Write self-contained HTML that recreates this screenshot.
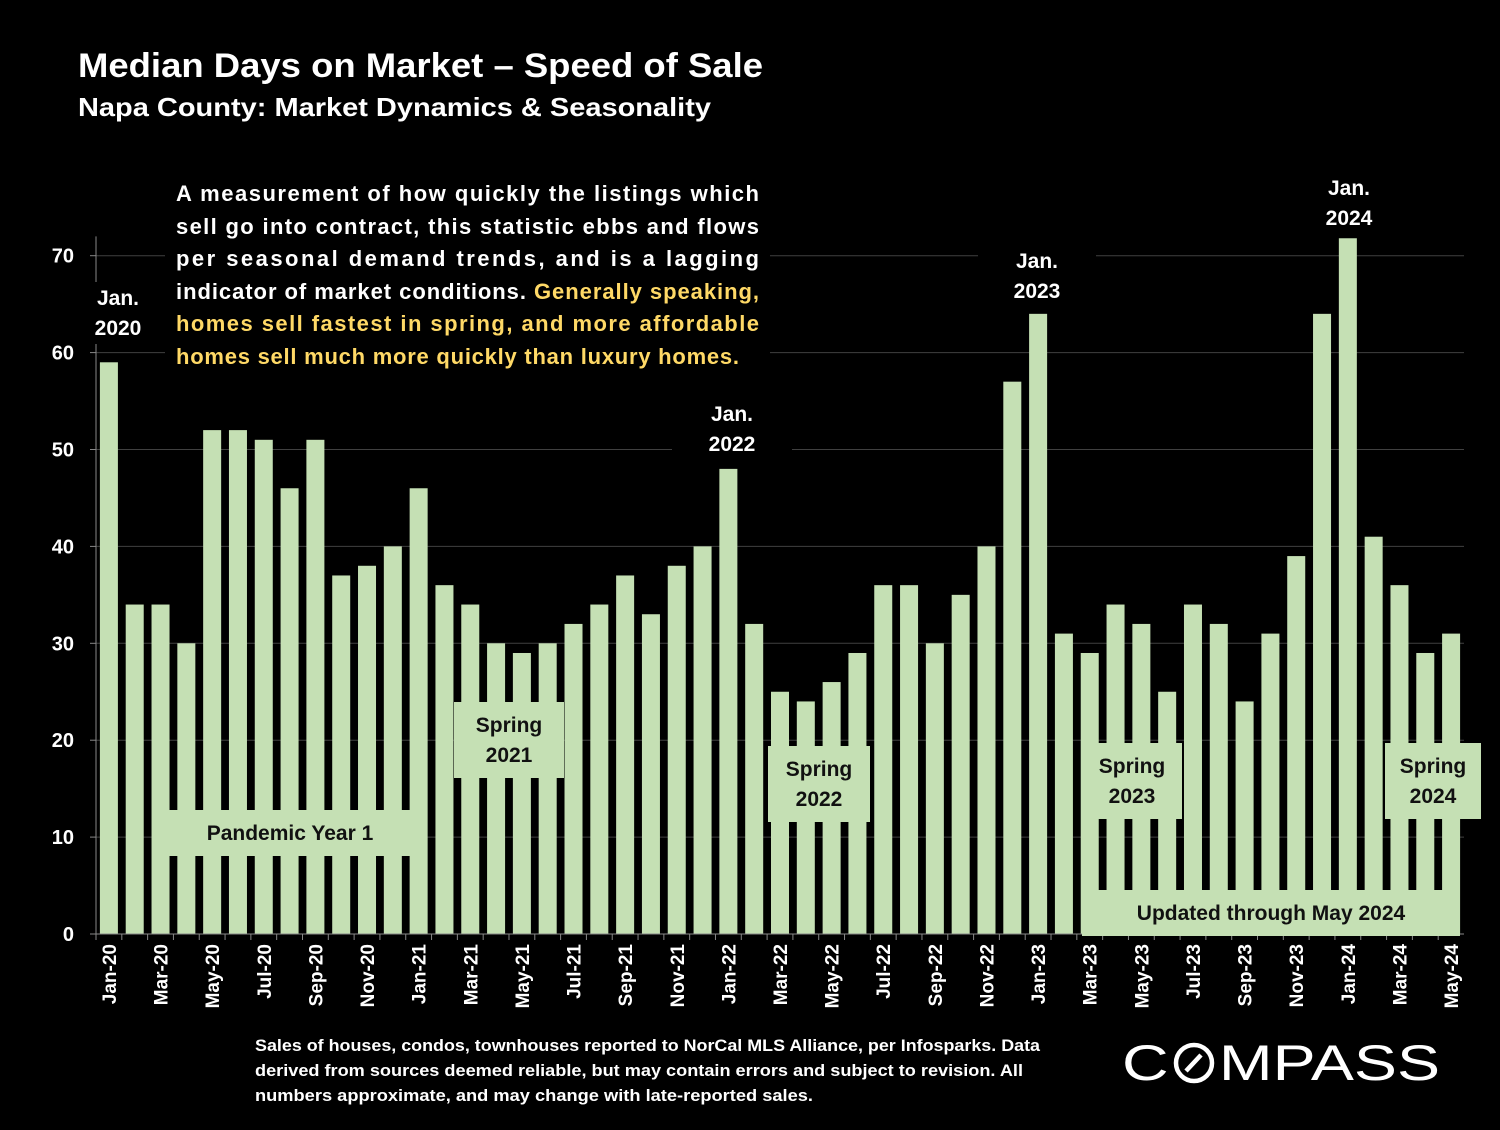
<!DOCTYPE html>
<html><head><meta charset="utf-8"><style>
body{margin:0;background:#000;width:1500px;height:1125px;overflow:hidden;font-family:"Liberation Sans",sans-serif;color:#fff}
</style></head><body>
<svg id="c" width="1500" height="1125" xmlns="http://www.w3.org/2000/svg" font-family="Liberation Sans, sans-serif">
<text x="78" y="77" font-size="34" font-weight="bold" fill="#fff" textLength="685" lengthAdjust="spacingAndGlyphs">Median Days on Market – Speed of Sale</text>
<text x="78" y="116" font-size="26" font-weight="bold" fill="#fff" textLength="633" lengthAdjust="spacingAndGlyphs">Napa County: Market Dynamics &amp; Seasonality</text>
<g id="grid"></g><g id="bars"></g><g id="axes"></g><g id="ann"></g>
<g font-size="22" font-weight="bold">
<rect x="165" y="172" width="605" height="203" fill="#000"/>
<text x="176" y="201" fill="#fff" textLength="583">A measurement of how quickly the listings which</text>
<text x="176" y="234" fill="#fff" textLength="583">sell go into contract, this statistic ebbs and flows</text>
<text x="176" y="266" fill="#fff" textLength="583">per seasonal demand trends, and is a lagging</text>
<text x="176" y="299" fill="#fff" textLength="583">indicator of market conditions. <tspan fill="#ffd966">Generally speaking,</tspan></text>
<text x="176" y="331" fill="#ffd966" textLength="583">homes sell fastest in spring, and more affordable</text>
<text x="176" y="364" fill="#ffd966" textLength="563">homes sell much more quickly than luxury homes.</text>
</g>
<g font-size="16.5" font-weight="bold" fill="#fff">
<text x="255" y="1051" textLength="785" lengthAdjust="spacingAndGlyphs">Sales of houses, condos, townhouses reported to NorCal MLS Alliance, per Infosparks. Data</text>
<text x="255" y="1076" textLength="768" lengthAdjust="spacingAndGlyphs">derived from sources deemed reliable, but may contain errors and subject to revision. All</text>
<text x="255" y="1101" textLength="558" lengthAdjust="spacingAndGlyphs">numbers approximate, and may change with late-reported sales.</text>
</g>
<g>
<text x="1122" y="1080" font-size="50" fill="#fff" textLength="318" lengthAdjust="spacingAndGlyphs">C<tspan fill="#000">O</tspan>MPASS</text>
<circle cx="1194" cy="1063" r="18" fill="none" stroke="#fff" stroke-width="4.5"/>
<line x1="1186" y1="1071" x2="1201" y2="1055" stroke="#fff" stroke-width="4.5"/>
</g>
</svg>
<script>
const categories=["Jan-20","Feb-20","Mar-20","Apr-20","May-20","Jun-20","Jul-20","Aug-20","Sep-20","Oct-20","Nov-20","Dec-20","Jan-21","Feb-21","Mar-21","Apr-21","May-21","Jun-21","Jul-21","Aug-21","Sep-21","Oct-21","Nov-21","Dec-21","Jan-22","Feb-22","Mar-22","Apr-22","May-22","Jun-22","Jul-22","Aug-22","Sep-22","Oct-22","Nov-22","Dec-22","Jan-23","Feb-23","Mar-23","Apr-23","May-23","Jun-23","Jul-23","Aug-23","Sep-23","Oct-23","Nov-23","Dec-23","Jan-24","Feb-24","Mar-24","Apr-24","May-24"];
const values=[59,34,34,30,52,52,51,46,51,37,38,40,46,36,34,30,29,30,32,34,37,33,38,40,48,32,25,24,26,29,36,36,30,35,40,57,64,31,29,34,32,25,34,32,24,31,39,64,72,41,36,29,31];
const yTicks=[0,10,20,30,40,50,60,70];
const NS="http://www.w3.org/2000/svg";
const L=96,R=1464,Y0=934,PX=9.69;
const step=(R-L)/categories.length;
const xc=i=>L+step*(i+0.5);
const y=v=>Y0-v*PX;
function mk(t,a,p){const e=document.createElementNS(NS,t);for(const k in a)e.setAttribute(k,a[k]);p.appendChild(e);return e;}
const grid=document.getElementById('grid'),bars=document.getElementById('bars'),axes=document.getElementById('axes'),ann=document.getElementById('ann');
yTicks.forEach(v=>{
 if(v>0){const g=mk('line',{x1:L,x2:R,y1:y(v),y2:y(v),stroke:'#404040','stroke-width':1},grid);
 
 }
 const t=mk('text',{x:74,y:y(v)+7,'font-size':20,'font-weight':'bold',fill:'#fff','text-anchor':'end'},axes);t.textContent=v;
 
 
 mk('line',{x1:L-6,x2:L,y1:y(v),y2:y(v),stroke:'#888'},axes);
});
mk('line',{x1:L,x2:L,y1:y(72),y2:Y0,stroke:'#888'},axes);
mk('line',{x1:L,x2:R,y1:Y0,y2:Y0,stroke:'#888'},axes);
categories.forEach((c,i)=>{
 const h=Math.min(values[i],71.8);
 const b=mk('rect',{x:xc(i)-9,y:y(h),width:18,height:Y0-y(h),fill:'#c5e0b4'},bars);
 
 
 mk('line',{x1:L+step*i,x2:L+step*i,y1:Y0,y2:Y0+6,stroke:'#888'},axes);
 if(i%2===0){const t=mk('text',{transform:`translate(${xc(i)+7},${Y0+10}) rotate(-90)`,'font-size':19,'font-weight':'bold',fill:'#fff','text-anchor':'end'},axes);t.textContent=c;
 
 }
});
function box(x,yy,w,h,lines,name,black){
 const g=mk('g',{},ann);
 
 
 mk('rect',{x,y:yy,width:w,height:h,fill:black?'#000':'#c5e0b4'},g);
 const lh=30, top=yy+h/2-(lines.length-1)*lh/2+7;
 lines.forEach((s,k)=>{const t=mk('text',{x:x+w/2,y:top+k*lh,'font-size':21,'font-weight':'bold',fill:black?'#fff':'#111','text-anchor':'middle'},g);t.textContent=s;});
}
box(168,810,244,46,["Pandemic Year 1"],'annotation-pandemic-year-1');
box(454,702,110,76,["Spring","2021"],'annotation-spring-2021');
box(768,746,102,76,["Spring","2022"],'annotation-spring-2022');
box(1082,743,100,76,["Spring","2023"],'annotation-spring-2023');
box(1385,743,96,76,["Spring","2024"],'annotation-spring-2024');
box(1082,890,378,46,["Updated through May 2024"],'annotation-updated');
box(88,282,60,62,["Jan.","2020"],'label-jan-2020',true);
box(672,398,120,62,["Jan.","2022"],'label-jan-2022',true);
box(978,245,118,62,["Jan.","2023"],'label-jan-2023',true);
box(1306,172,86,62,["Jan.","2024"],'label-jan-2024',true);
</script>
</body></html>
